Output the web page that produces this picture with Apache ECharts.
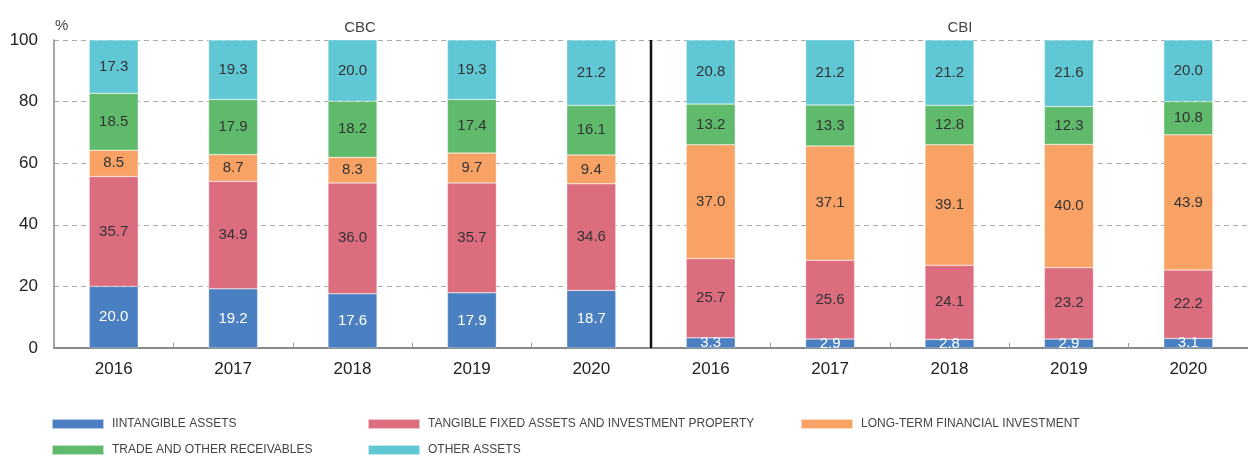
<!DOCTYPE html>
<html>
<head>
<meta charset="utf-8">
<script src="https://cdn.jsdelivr.net/npm/echarts@6/dist/echarts.min.js"></script>
<style>
  html, body { margin: 0; padding: 0; background: #fff; }
  #main { width: 1248px; height: 456px; }
</style>
</head>
<body>
<div id="main"></div>
<script>
var years = ['2016', '2017', '2018', '2019', '2020', '2016', '2017', '2018', '2019', '2020'];
var yTicks = [0, 20, 40, 60, 80, 100];

// CBC first 5, CBI last 5
var intangible = [20.0, 19.2, 17.6, 17.9, 18.7, 3.3, 2.9, 2.8, 2.9, 3.1];
var tangible = [35.7, 34.9, 36.0, 35.7, 34.6, 25.7, 25.6, 24.1, 23.2, 22.2];
var longTerm = [8.5, 8.7, 8.3, 9.7, 9.4, 37.0, 37.1, 39.1, 40.0, 43.9];
var receivables = [18.5, 17.9, 18.2, 17.4, 16.1, 13.2, 13.3, 12.8, 12.3, 10.8];
var otherAssets = [17.3, 19.3, 20.0, 19.3, 21.2, 20.8, 21.2, 21.2, 21.6, 20.0];

var names = [
    'IINTANGIBLE ASSETS',
    'TANGIBLE FIXED ASSETS AND INVESTMENT PROPERTY',
    'LONG-TERM FINANCIAL INVESTMENT',
    'TRADE AND OTHER RECEIVABLES',
    'OTHER ASSETS'
];
var colors = ['#4a80c2', '#dc6d7e', '#f9a266', '#5fbb6b', '#60c7d5'];
var font = 'Liberation Sans, Arial, Helvetica, sans-serif';

var chart = echarts.init(document.getElementById('main'));

function makeSeries(idx, values, labelColor) {
    return {
        name: names[idx],
        type: 'bar',
        stack: 'total',
        barWidth: 49,
        data: values,
        itemStyle: { color: colors[idx], borderColor: 'rgba(255,255,255,0.6)', borderWidth: 0.5 },
        label: {
            show: true,
            position: 'inside',
            color: labelColor,
            fontSize: 15,
            fontFamily: font,
            formatter: function (p) { return p.value.toFixed(1); }
        }
    };
}

function legendAt(name, left, top) {
    return {
        data: [name], left: left, top: top, itemWidth: 52, itemHeight: 10,
        itemGap: 0, selectedMode: false, icon: 'rect',
        textStyle: { fontSize: 12, color: '#444', fontFamily: font, padding: [0, 0, 0, 3] }
    };
}

var option = {
    animation: false,
    color: colors,
    grid: { left: 54, right: -8, top: 40, bottom: 108 },
    legend: [
        legendAt(names[0], 46, 413),
        legendAt(names[1], 362, 413),
        legendAt(names[2], 795, 413),
        legendAt(names[3], 46, 439),
        legendAt(names[4], 362, 439)
    ],
    title: [
        { text: 'CBC', left: 355, top: 15, textAlign: 'center', textStyle: { fontSize: 15, fontWeight: 'normal', color: '#444', fontFamily: font } },
        { text: 'CBI', left: 955, top: 15, textAlign: 'center', textStyle: { fontSize: 15, fontWeight: 'normal', color: '#444', fontFamily: font } }
    ],
    xAxis: {
        type: 'category',
        data: years,
        axisLine: { lineStyle: { color: '#888', width: 2 } },
        axisTick: { show: true, inside: true, length: 5, lineStyle: { color: '#999' } },
        axisLabel: { fontSize: 17, color: '#222', margin: 13, fontFamily: font }
    },
    yAxis: {
        type: 'value',
        min: yTicks[0],
        max: yTicks[yTicks.length - 1],
        interval: 20,
        name: '%',
        nameLocation: 'end',
        nameGap: 7,
        nameTextStyle: { fontSize: 15, color: '#444', align: 'left', padding: [0, 0, 0, 1], fontFamily: font },
        axisLine: { show: true, lineStyle: { color: '#888', width: 1.5 } },
        axisTick: { show: false },
        axisLabel: { fontSize: 17, color: '#222', margin: 16, fontFamily: font },
        splitLine: { lineStyle: { color: '#aaa', type: [5, 4] } }
    },
    series: [
        makeSeries(0, intangible, '#fff'),
        makeSeries(1, tangible, '#333'),
        makeSeries(2, longTerm, '#333'),
        makeSeries(3, receivables, '#333'),
        makeSeries(4, otherAssets, '#333')
    ]
};
chart.setOption(option);

// divider between the CBC and CBI groups
var p4 = chart.convertToPixel({ xAxisIndex: 0 }, 4);
var p5 = chart.convertToPixel({ xAxisIndex: 0 }, 5);
var yTop = chart.convertToPixel({ yAxisIndex: 0 }, 100);
var yBot = chart.convertToPixel({ yAxisIndex: 0 }, 0);
var xm = (p4 + p5) / 2;
chart.setOption({
    graphic: [{
        type: 'line',
        shape: { x1: xm, y1: yTop, x2: xm, y2: yBot },
        style: { stroke: '#111', lineWidth: 2.5 },
        z: 100
    }]
});
</script>
</body>
</html>
